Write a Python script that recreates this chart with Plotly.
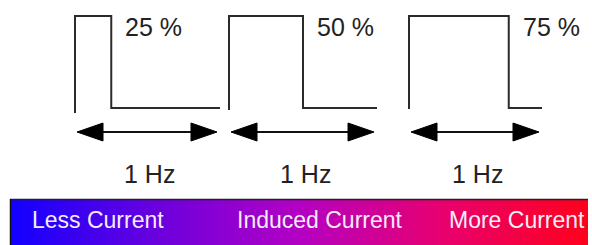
import numpy as np
import plotly.graph_objects as go

# ---- data ----
duty_cycles = [25, 50, 75]                 # percent high time
duty_labels = ["25 %", "50 %", "75 %"]
freq_labels = ["1 Hz", "1 Hz", "1 Hz"]
bar_labels = ["Less Current", "Induced Current", "More Current"]
gradient_stops = [0.0, 0.25, 0.5, 0.75, 1.0]
gradient_colors = ["rgb(18,0,255)", "rgb(105,0,222)", "rgb(180,0,195)",
                   "rgb(232,0,110)", "rgb(255,0,28)"]

# ---- layout constants (pixel space) ----
W, H = 592, 245
period_start = [75, 229, 409]
period_end = [220, 377, 542]
left_bottom = [113, 110, 109]
y_high, y_low = 16, 108
arrow_y = 132
head_len, head_half = 26, 9
line_col = "#2b2b2b"
FONT = "Liberation Sans, Arial, Helvetica, sans-serif"

fig = go.Figure()

# gradient bar (1px bricks)
bar_x0, bar_x1, bar_y0, bar_y1 = 10, 588, 199, 246
n = bar_x1 - bar_x0
xs = np.linspace(bar_x0, bar_x1, n + 1)
fig.add_trace(go.Heatmap(
    x=xs, y=[bar_y0, bar_y1], z=[list(range(n))],
    colorscale=[[s, c] for s, c in zip(gradient_stops, gradient_colors)],
    showscale=False, hoverinfo="skip"))

annotations = []
for i, d in enumerate(duty_cycles):
    x0, x1 = period_start[i], period_end[i]
    xf = x0 + (x1 - x0) * d / 100.0
    # waveform
    fig.add_trace(go.Scatter(
        x=[x0, x0, xf, xf, x1],
        y=[left_bottom[i], y_high, y_high, y_low, y_low],
        mode="lines", line=dict(color=line_col, width=2),
        hoverinfo="skip", showlegend=False))
    # arrow shaft
    ax0, ax1 = x0 + 2, x1 - 3
    fig.add_trace(go.Scatter(
        x=[ax0 + head_len - 2, ax1 - head_len + 2], y=[arrow_y, arrow_y],
        mode="lines", line=dict(color="#111", width=2),
        hoverinfo="skip", showlegend=False))
    # arrow heads
    for tip, sgn in ((ax0, 1), (ax1, -1)):
        fig.add_trace(go.Scatter(
            x=[tip, tip + sgn * head_len, tip + sgn * head_len, tip],
            y=[arrow_y, arrow_y - head_half, arrow_y + head_half, arrow_y],
            mode="lines", fill="toself", fillcolor="#000",
            line=dict(color="#000", width=1),
            hoverinfo="skip", showlegend=False))
    annotations.append(dict(
        x=xf + 12, y=27, text=duty_labels[i], showarrow=False,
        xanchor="left", yanchor="middle",
        font=dict(family=FONT, size=25, color="#222")))
    annotations.append(dict(
        x=(x0 + x1) / 2 + 2, y=174, text=freq_labels[i], showarrow=False,
        xanchor="center", yanchor="middle",
        font=dict(family=FONT, size=25, color="#222")))

for lab, cx in zip(bar_labels, [97.5, 320, 517]):
    annotations.append(dict(
        x=cx, y=220, text=lab, showarrow=False,
        xanchor="center", yanchor="middle",
        font=dict(family=FONT, size=23, color="#f3ecfa")))

shapes = [
    dict(type="line", x0=bar_x0, x1=bar_x1, y0=bar_y0 + 0.5, y1=bar_y0 + 0.5,
         line=dict(color="#222", width=1.5)),
    dict(type="line", x0=bar_x0 + 0.5, x1=bar_x0 + 0.5, y0=bar_y0, y1=bar_y1,
         line=dict(color="#111", width=1.5)),
]

fig.update_layout(
    width=W, height=H, margin=dict(l=0, r=0, t=0, b=0),
    paper_bgcolor="white", plot_bgcolor="white", showlegend=False,
    xaxis=dict(range=[0, W], visible=False, fixedrange=True),
    yaxis=dict(range=[H, 0], visible=False, fixedrange=True),
    annotations=annotations, shapes=shapes)

fig.write_html("out.html", config={"displayModeBar": False},
               post_script="document.body.style.margin='0';"
                           "document.body.style.overflow='hidden';")
